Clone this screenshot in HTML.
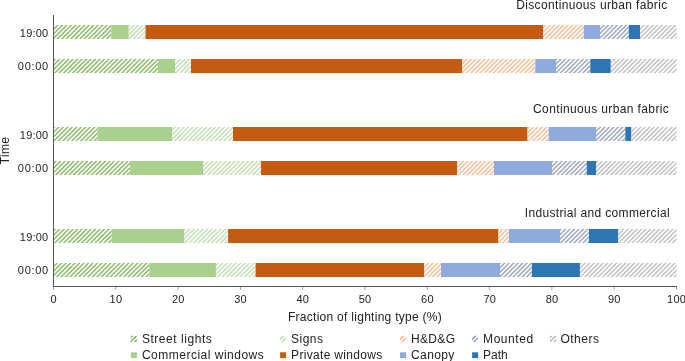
<!DOCTYPE html>
<html><head><meta charset="utf-8"><style>
html,body{margin:0;padding:0;background:#fff;width:685px;height:361px;overflow:hidden}
svg{display:block;will-change:transform}
text{font-family:"Liberation Sans",sans-serif;fill:#222}
.tk{font-size:11px;letter-spacing:0.2px}
.tt{font-size:12px;letter-spacing:0.28px}
.lg{font-size:12px;letter-spacing:0.3px}
</style></head><body>
<svg width="685" height="361" viewBox="0 0 685 361">
<defs><pattern id="hSL" patternUnits="userSpaceOnUse" width="3.165" height="20" patternTransform="rotate(45)"><rect x="1.1" y="0" width="1.2" height="20" fill="#70AD47"/></pattern><pattern id="hSG" patternUnits="userSpaceOnUse" width="3.165" height="20" patternTransform="rotate(45)"><rect x="1.1" y="0" width="1.2" height="20" fill="#B5DAA2"/></pattern><pattern id="hHD" patternUnits="userSpaceOnUse" width="3.165" height="20" patternTransform="rotate(45)"><rect x="1.1" y="0" width="1.2" height="20" fill="#F4B183"/></pattern><pattern id="hMO" patternUnits="userSpaceOnUse" width="3.165" height="20" patternTransform="rotate(45)"><rect x="1.1" y="0" width="1.2" height="20" fill="#8497B0"/></pattern><pattern id="hOT" patternUnits="userSpaceOnUse" width="3.165" height="20" patternTransform="rotate(45)"><rect x="1.1" y="0" width="1.2" height="20" fill="#B3B3B3"/></pattern><clipPath id="cpL"><rect x="0" y="0" width="6.1" height="6.1"/></clipPath></defs>
<rect width="685" height="361" fill="#fff"/>
<rect x="53.50" y="25" width="57.70" height="14" fill="url(#hSL)"/>
<rect x="111.20" y="25" width="17.40" height="14" fill="#A9D18E"/>
<rect x="128.60" y="25" width="16.90" height="14" fill="url(#hSG)"/>
<rect x="145.50" y="25" width="397.50" height="14" fill="#C55A11"/>
<rect x="543.00" y="25" width="40.80" height="14" fill="url(#hHD)"/>
<rect x="583.80" y="25" width="16.20" height="14" fill="#8FAADC"/>
<rect x="600.00" y="25" width="28.80" height="14" fill="url(#hMO)"/>
<rect x="628.80" y="25" width="11.20" height="14" fill="#2E75B6"/>
<rect x="640.00" y="25" width="36.50" height="14" fill="url(#hOT)"/>
<rect x="53.50" y="59" width="104.50" height="14" fill="url(#hSL)"/>
<rect x="158.00" y="59" width="17.00" height="14" fill="#A9D18E"/>
<rect x="175.00" y="59" width="16.00" height="14" fill="url(#hSG)"/>
<rect x="191.00" y="59" width="271.00" height="14" fill="#C55A11"/>
<rect x="462.00" y="59" width="73.30" height="14" fill="url(#hHD)"/>
<rect x="535.30" y="59" width="20.70" height="14" fill="#8FAADC"/>
<rect x="556.00" y="59" width="34.30" height="14" fill="url(#hMO)"/>
<rect x="590.30" y="59" width="20.40" height="14" fill="#2E75B6"/>
<rect x="610.70" y="59" width="65.80" height="14" fill="url(#hOT)"/>
<rect x="53.50" y="127" width="43.90" height="14" fill="url(#hSL)"/>
<rect x="97.40" y="127" width="74.60" height="14" fill="#A9D18E"/>
<rect x="172.00" y="127" width="61.00" height="14" fill="url(#hSG)"/>
<rect x="233.00" y="127" width="294.40" height="14" fill="#C55A11"/>
<rect x="527.40" y="127" width="21.30" height="14" fill="url(#hHD)"/>
<rect x="548.70" y="127" width="47.40" height="14" fill="#8FAADC"/>
<rect x="596.10" y="127" width="29.20" height="14" fill="url(#hMO)"/>
<rect x="625.30" y="127" width="5.90" height="14" fill="#2E75B6"/>
<rect x="631.20" y="127" width="45.30" height="14" fill="url(#hOT)"/>
<rect x="53.50" y="161" width="76.50" height="14" fill="url(#hSL)"/>
<rect x="130.00" y="161" width="73.00" height="14" fill="#A9D18E"/>
<rect x="203.00" y="161" width="58.00" height="14" fill="url(#hSG)"/>
<rect x="261.00" y="161" width="196.00" height="14" fill="#C55A11"/>
<rect x="457.00" y="161" width="37.00" height="14" fill="url(#hHD)"/>
<rect x="494.00" y="161" width="58.10" height="14" fill="#8FAADC"/>
<rect x="552.10" y="161" width="34.60" height="14" fill="url(#hMO)"/>
<rect x="586.70" y="161" width="9.30" height="14" fill="#2E75B6"/>
<rect x="596.00" y="161" width="80.50" height="14" fill="url(#hOT)"/>
<rect x="53.50" y="229" width="58.20" height="14" fill="url(#hSL)"/>
<rect x="111.70" y="229" width="72.30" height="14" fill="#A9D18E"/>
<rect x="184.00" y="229" width="44.10" height="14" fill="url(#hSG)"/>
<rect x="228.10" y="229" width="270.10" height="14" fill="#C55A11"/>
<rect x="498.20" y="229" width="10.70" height="14" fill="url(#hHD)"/>
<rect x="508.90" y="229" width="51.10" height="14" fill="#8FAADC"/>
<rect x="560.00" y="229" width="29.00" height="14" fill="url(#hMO)"/>
<rect x="589.00" y="229" width="29.10" height="14" fill="#2E75B6"/>
<rect x="618.10" y="229" width="58.40" height="14" fill="url(#hOT)"/>
<rect x="53.50" y="263" width="95.90" height="14" fill="url(#hSL)"/>
<rect x="149.40" y="263" width="66.50" height="14" fill="#A9D18E"/>
<rect x="215.90" y="263" width="39.70" height="14" fill="url(#hSG)"/>
<rect x="255.60" y="263" width="168.50" height="14" fill="#C55A11"/>
<rect x="424.10" y="263" width="16.90" height="14" fill="url(#hHD)"/>
<rect x="441.00" y="263" width="59.00" height="14" fill="#8FAADC"/>
<rect x="500.00" y="263" width="31.90" height="14" fill="url(#hMO)"/>
<rect x="531.90" y="263" width="48.00" height="14" fill="#2E75B6"/>
<rect x="579.90" y="263" width="96.60" height="14" fill="url(#hOT)"/>
<line x1="53.5" y1="15" x2="53.5" y2="287" stroke="#555" stroke-width="1"/>
<line x1="53" y1="286.5" x2="677" y2="286.5" stroke="#555" stroke-width="1"/>
<line x1="53.50" y1="287" x2="53.50" y2="290" stroke="#777" stroke-width="0.7"/>
<text x="53.60" y="303" text-anchor="middle" class="tk">0</text>
<line x1="115.80" y1="287" x2="115.80" y2="290" stroke="#777" stroke-width="0.7"/>
<text x="115.90" y="303" text-anchor="middle" class="tk">10</text>
<line x1="178.10" y1="287" x2="178.10" y2="290" stroke="#777" stroke-width="0.7"/>
<text x="178.20" y="303" text-anchor="middle" class="tk">20</text>
<line x1="240.40" y1="287" x2="240.40" y2="290" stroke="#777" stroke-width="0.7"/>
<text x="240.50" y="303" text-anchor="middle" class="tk">30</text>
<line x1="302.70" y1="287" x2="302.70" y2="290" stroke="#777" stroke-width="0.7"/>
<text x="302.80" y="303" text-anchor="middle" class="tk">40</text>
<line x1="365.00" y1="287" x2="365.00" y2="290" stroke="#777" stroke-width="0.7"/>
<text x="365.10" y="303" text-anchor="middle" class="tk">50</text>
<line x1="427.30" y1="287" x2="427.30" y2="290" stroke="#777" stroke-width="0.7"/>
<text x="427.40" y="303" text-anchor="middle" class="tk">60</text>
<line x1="489.60" y1="287" x2="489.60" y2="290" stroke="#777" stroke-width="0.7"/>
<text x="489.70" y="303" text-anchor="middle" class="tk">70</text>
<line x1="551.90" y1="287" x2="551.90" y2="290" stroke="#777" stroke-width="0.7"/>
<text x="552.00" y="303" text-anchor="middle" class="tk">80</text>
<line x1="614.20" y1="287" x2="614.20" y2="290" stroke="#777" stroke-width="0.7"/>
<text x="614.30" y="303" text-anchor="middle" class="tk">90</text>
<line x1="676.50" y1="287" x2="676.50" y2="290" stroke="#777" stroke-width="0.7"/>
<text x="676.60" y="303" text-anchor="middle" class="tk">100</text>
<text x="48.4" y="36.5" text-anchor="end" class="tk">19:00</text>
<text x="48.9" y="69.9" text-anchor="end" class="tk" style="letter-spacing:0.7px">00:00</text>
<text x="48.4" y="138.5" text-anchor="end" class="tk">19:00</text>
<text x="48.9" y="171.9" text-anchor="end" class="tk" style="letter-spacing:0.7px">00:00</text>
<text x="48.4" y="240.5" text-anchor="end" class="tk">19:00</text>
<text x="48.9" y="273.9" text-anchor="end" class="tk" style="letter-spacing:0.7px">00:00</text>
<text x="667.6" y="9.3" text-anchor="end" class="tt" style="letter-spacing:0.36px">Discontinuous urban fabric</text>
<text x="669.2" y="113.3" text-anchor="end" class="tt" style="letter-spacing:0.38px">Continuous urban fabric</text>
<text x="670.0" y="216.8" text-anchor="end" class="tt" style="letter-spacing:0.34px">Industrial and commercial</text>
<text x="365" y="321" text-anchor="middle" class="tt">Fraction of lighting type (%)</text>
<text transform="translate(9,150.5) rotate(-90)" text-anchor="middle" class="tt">Time</text>
<g transform="translate(130.7,335.8)" clip-path="url(#cpL)" stroke="#70AD47" stroke-width="1.35"><line x1="-1" y1="2.7" x2="2.7" y2="-1"/><line x1="-1" y1="7.0" x2="7.0" y2="-1"/><line x1="-1" y1="11.3" x2="11.3" y2="-1"/></g>
<text x="141.9" y="342.5" class="lg" style="letter-spacing:0.55px">Street lights</text>
<g transform="translate(279.9,335.8)" clip-path="url(#cpL)" stroke="#B5DAA2" stroke-width="1.35"><line x1="-1" y1="4.85" x2="4.85" y2="-1"/><line x1="-1" y1="9.15" x2="9.15" y2="-1"/></g>
<text x="291.1" y="342.5" class="lg" style="letter-spacing:0.45px">Signs</text>
<g transform="translate(399.9,335.8)" clip-path="url(#cpL)" stroke="#F4B183" stroke-width="1.35"><line x1="-1" y1="4.85" x2="4.85" y2="-1"/><line x1="-1" y1="9.15" x2="9.15" y2="-1"/></g>
<text x="411.1" y="342.5" class="lg" style="letter-spacing:0.3px">H&amp;D&amp;G</text>
<g transform="translate(471.9,335.8)" clip-path="url(#cpL)" stroke="#8497B0" stroke-width="1.35"><line x1="-1" y1="4.85" x2="4.85" y2="-1"/><line x1="-1" y1="9.15" x2="9.15" y2="-1"/></g>
<text x="483.1" y="342.5" class="lg" style="letter-spacing:0.55px">Mounted</text>
<g transform="translate(549.9,335.8)" clip-path="url(#cpL)" stroke="#B3B3B3" stroke-width="1.35"><line x1="-1" y1="2.7" x2="2.7" y2="-1"/><line x1="-1" y1="7.0" x2="7.0" y2="-1"/><line x1="-1" y1="11.3" x2="11.3" y2="-1"/></g>
<text x="560.4" y="342.5" class="lg" style="letter-spacing:0.5px">Others</text>
<rect x="130.9" y="352.3" width="6" height="5.8" fill="#A9D18E"/>
<text x="141.9" y="358.5" class="lg" style="letter-spacing:0.5px">Commercial windows</text>
<rect x="280.1" y="352.3" width="6" height="5.8" fill="#C55A11"/>
<text x="291.1" y="358.5" class="lg" style="letter-spacing:0.32px">Private windows</text>
<rect x="400.1" y="352.3" width="6" height="5.8" fill="#8FAADC"/>
<text x="411.1" y="358.5" class="lg" style="letter-spacing:0.35px">Canopy</text>
<rect x="472.1" y="352.3" width="6" height="5.8" fill="#2E75B6"/>
<text x="483.1" y="358.5" class="lg" style="letter-spacing:-0.05px">Path</text>
</svg>
</body></html>
